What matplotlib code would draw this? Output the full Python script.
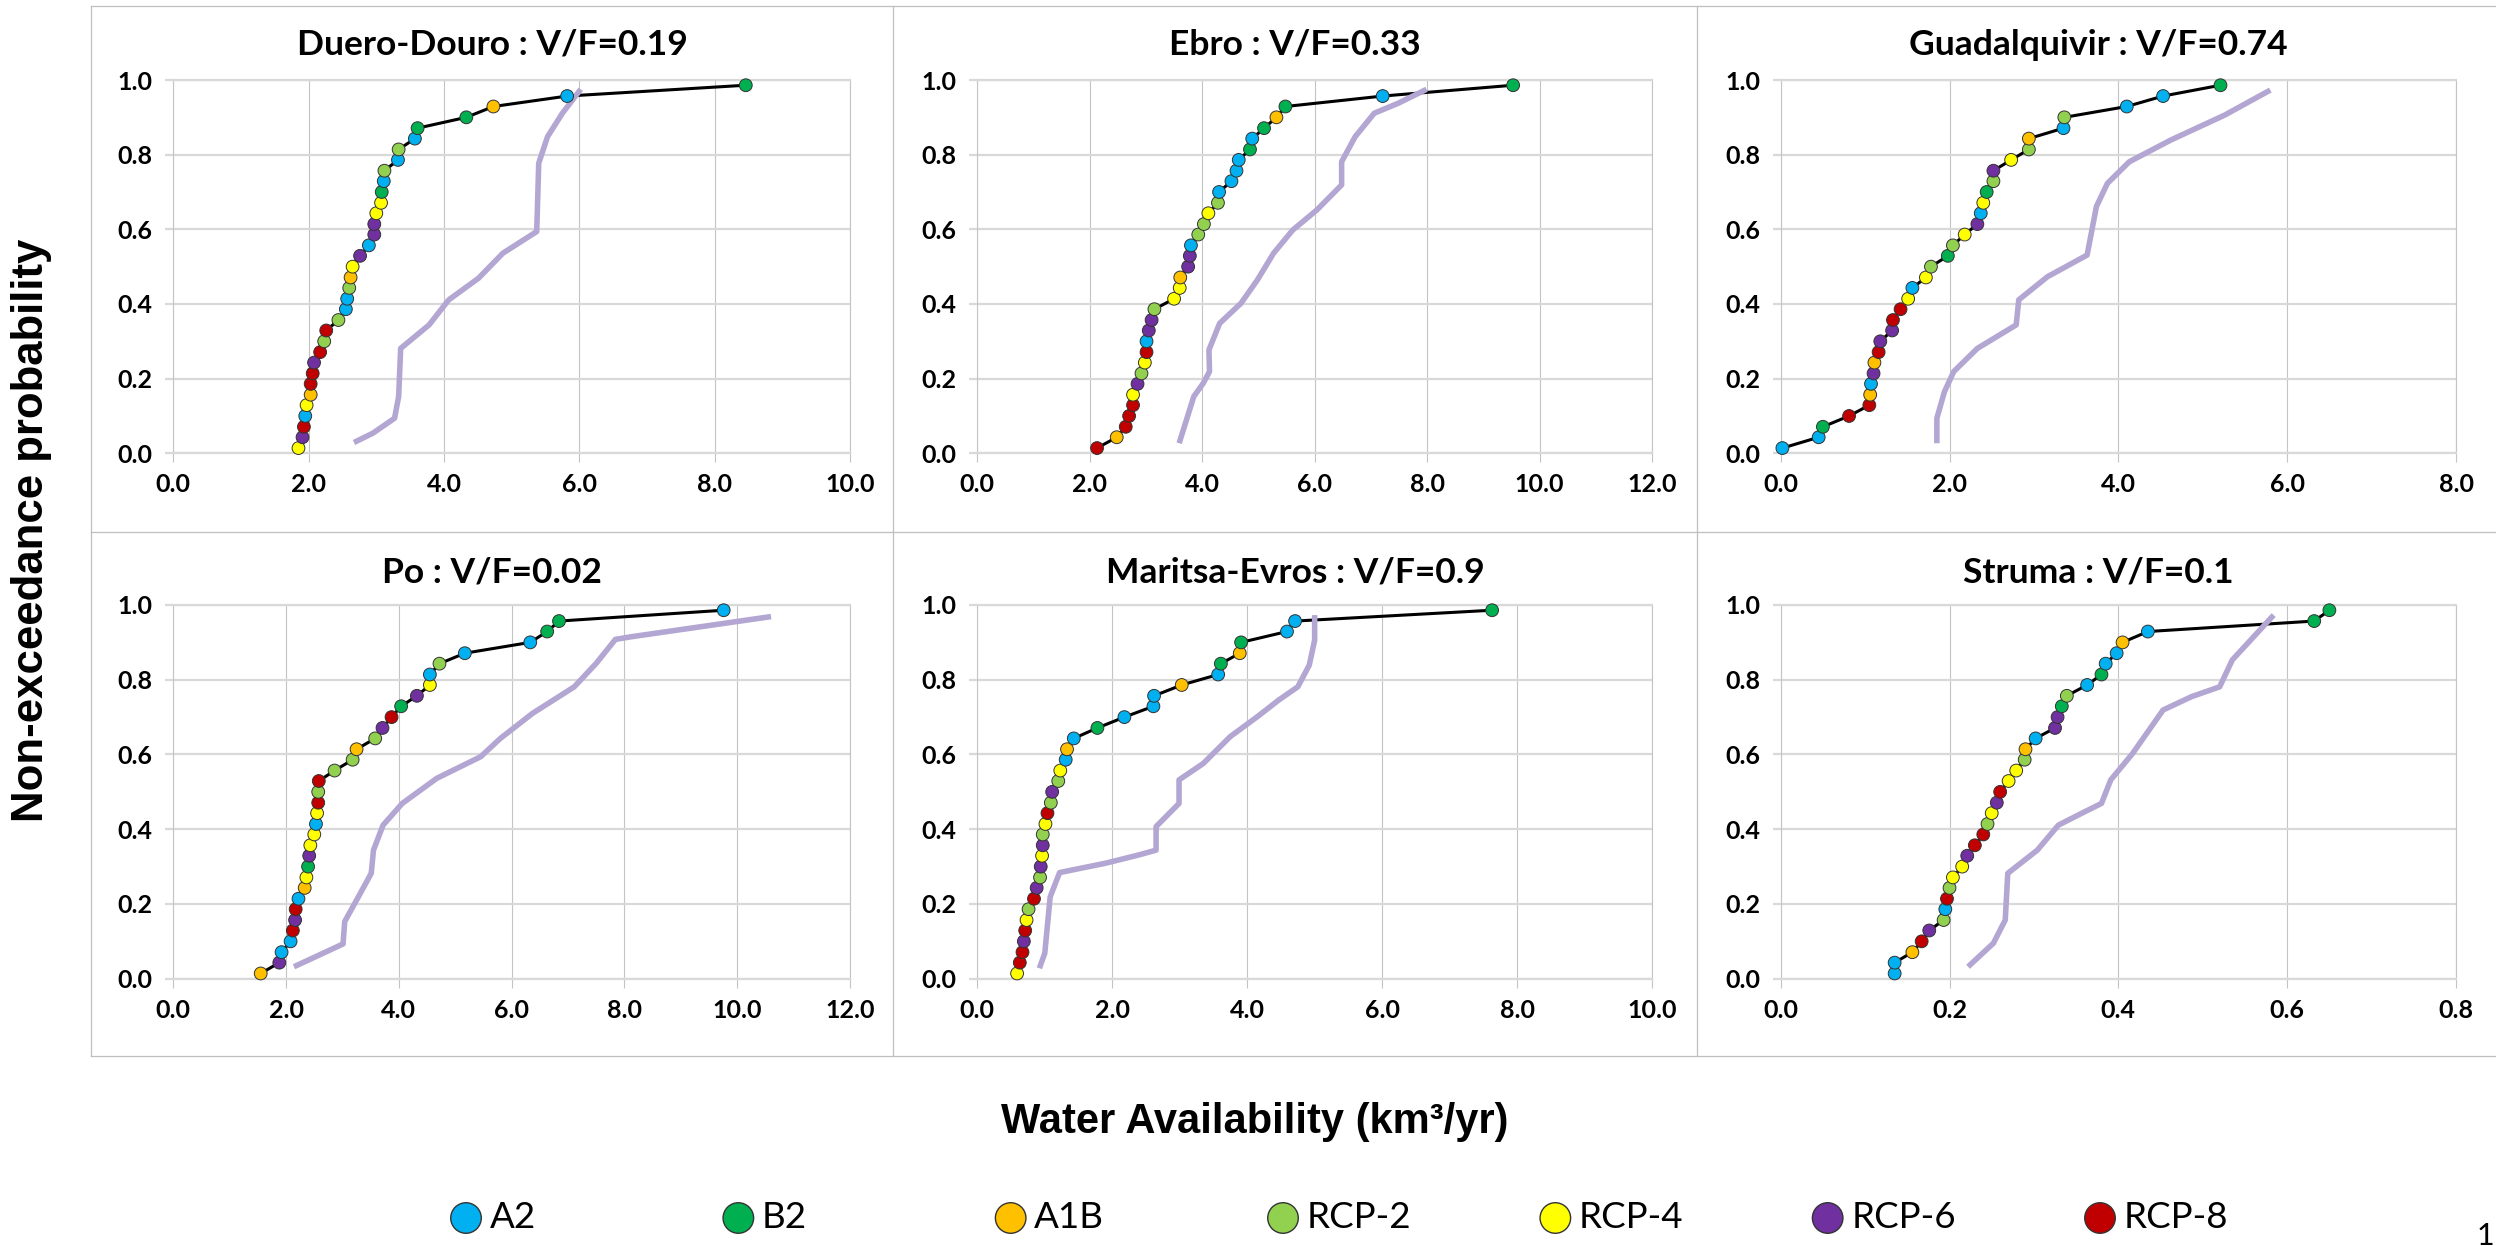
import matplotlib
matplotlib.use("Agg")
import matplotlib.pyplot as plt
from matplotlib.lines import Line2D
from matplotlib.ticker import MultipleLocator, FormatStrFormatter

# ---------------- data ----------------
SCENARIOS = ["A2", "B2", "A1B", "RCP-2", "RCP-4", "RCP-6", "RCP-8"]
SCENARIO_COLORS = ["#00B0F0", "#00B050", "#FFC000", "#92D050", "#FFFF00", "#7030A0", "#C00000"]

PROBABILITY = [0.014, 0.043, 0.071, 0.100, 0.129, 0.157, 0.186, 0.214, 0.243, 0.271,
               0.300, 0.329, 0.357, 0.386, 0.414, 0.443, 0.471, 0.500, 0.529, 0.557,
               0.586, 0.614, 0.643, 0.671, 0.700, 0.729, 0.757, 0.786, 0.814, 0.843,
               0.871, 0.900, 0.929, 0.957, 0.986]

TITLES = ["Duero-Douro : V/F=0.19", "Ebro : V/F=0.33", "Guadalquivir : V/F=0.74",
          "Po : V/F=0.02", "Maritsa-Evros : V/F=0.9", "Struma : V/F=0.1"]
X_MAX = [10, 12, 8, 12, 10, 0.8]
X_STEP = [2, 2, 2, 2, 2, 0.2]
Y_TICKS = [0.0, 0.2, 0.4, 0.6, 0.8, 1.0]

duero_x = [1.85, 1.91, 1.93, 1.95, 1.97, 2.03, 2.03, 2.06, 2.08, 2.17, 2.23, 2.26, 2.44, 2.55,
           2.57, 2.60, 2.62, 2.65, 2.76, 2.89, 2.97, 2.97, 3.00, 3.07, 3.08, 3.11, 3.12, 3.32,
           3.33, 3.57, 3.61, 4.33, 4.73, 5.82, 8.46]
duero_scen = ["RCP-4", "RCP-6", "RCP-8", "A2", "RCP-4", "A1B", "RCP-8", "RCP-8", "RCP-6", "RCP-8",
              "RCP-2", "RCP-8", "RCP-2", "A2", "A2", "RCP-2", "A1B", "RCP-4", "RCP-6", "A2",
              "RCP-6", "RCP-6", "RCP-4", "RCP-4", "B2", "A2", "RCP-2", "A2", "RCP-2", "A2",
              "B2", "B2", "A1B", "A2", "B2"]
duero_ref_x = [2.67, 2.95, 3.27, 3.33, 3.36, 3.78, 4.07, 4.51, 4.87, 5.37, 5.38, 5.40, 5.53, 5.75, 6.02]
duero_ref_y = [0.029, 0.054, 0.094, 0.152, 0.281, 0.344, 0.411, 0.469, 0.536, 0.594, 0.652, 0.777,
               0.848, 0.911, 0.975]

ebro_x = [2.13, 2.48, 2.64, 2.70, 2.77, 2.77, 2.85, 2.92, 2.98, 3.01, 3.01, 3.05, 3.10, 3.15,
          3.50, 3.60, 3.61, 3.75, 3.78, 3.80, 3.93, 4.03, 4.11, 4.28, 4.30, 4.52, 4.61, 4.65,
          4.85, 4.89, 5.10, 5.32, 5.48, 7.21, 9.53]
ebro_scen = ["RCP-8", "A1B", "RCP-8", "RCP-8", "RCP-8", "RCP-4", "RCP-6", "RCP-2", "RCP-4", "RCP-8",
             "A2", "RCP-6", "RCP-6", "RCP-2", "RCP-4", "RCP-4", "A1B", "RCP-6", "RCP-6", "A2",
             "RCP-2", "RCP-2", "RCP-4", "RCP-2", "A2", "A2", "A2", "A2", "B2", "A2",
             "B2", "A1B", "B2", "A2", "B2"]
ebro_ref_x = [3.59, 3.85, 4.02, 4.13, 4.12, 4.31, 4.69, 4.98, 5.27, 5.61, 6.04, 6.48, 6.48, 6.72,
              7.06, 7.49, 7.99]
ebro_ref_y = [0.027, 0.152, 0.188, 0.219, 0.277, 0.348, 0.402, 0.464, 0.536, 0.598, 0.652, 0.719,
              0.781, 0.848, 0.911, 0.938, 0.975]

guad_x = [0.02, 0.45, 0.50, 0.81, 1.05, 1.06, 1.07, 1.10, 1.11, 1.16, 1.18, 1.32, 1.33, 1.42,
          1.51, 1.56, 1.72, 1.78, 1.98, 2.04, 2.18, 2.33, 2.37, 2.40, 2.44, 2.52, 2.52, 2.73,
          2.94, 2.94, 3.35, 3.36, 4.10, 4.53, 5.21]
guad_scen = ["A2", "A2", "B2", "RCP-8", "RCP-8", "A1B", "A2", "RCP-6", "A1B", "RCP-8",
             "RCP-6", "RCP-6", "RCP-8", "RCP-8", "RCP-4", "A2", "RCP-4", "RCP-2", "B2", "RCP-2",
             "RCP-4", "RCP-6", "A2", "RCP-4", "B2", "RCP-2", "RCP-6", "RCP-4", "RCP-2", "A1B",
             "A2", "RCP-2", "A2", "A2", "B2"]
guad_ref_x = [1.85, 1.85, 1.94, 2.05, 2.33, 2.79, 2.82, 3.16, 3.63, 3.74, 3.87, 4.13, 4.62, 5.26, 5.80]
guad_ref_y = [0.027, 0.094, 0.165, 0.219, 0.281, 0.344, 0.411, 0.473, 0.531, 0.661, 0.723, 0.781,
              0.839, 0.906, 0.973]

po_x = [1.55, 1.88, 1.92, 2.08, 2.12, 2.16, 2.17, 2.22, 2.33, 2.36, 2.39, 2.41, 2.43, 2.50,
        2.53, 2.55, 2.57, 2.57, 2.58, 2.86, 3.18, 3.25, 3.58, 3.71, 3.87, 4.04, 4.32, 4.55,
        4.55, 4.72, 5.17, 6.33, 6.63, 6.84, 9.76]
po_scen = ["A1B", "RCP-6", "A2", "A2", "RCP-8", "RCP-6", "RCP-8", "A2", "A1B", "RCP-4",
           "B2", "RCP-6", "RCP-4", "RCP-4", "A2", "RCP-4", "RCP-8", "RCP-2", "RCP-8", "RCP-2",
           "RCP-2", "A1B", "RCP-2", "RCP-6", "RCP-8", "B2", "RCP-6", "RCP-4", "A2", "RCP-2",
           "A2", "A2", "B2", "B2", "A2"]
po_ref_x = [2.14, 3.01, 3.04, 3.30, 3.51, 3.55, 3.72, 4.06, 4.67, 5.45, 5.80, 6.37, 7.11, 7.50,
            7.84, 8.12, 10.60]
po_ref_y = [0.032, 0.093, 0.153, 0.224, 0.282, 0.344, 0.411, 0.469, 0.536, 0.594, 0.643, 0.710,
            0.781, 0.844, 0.908, 0.915, 0.969]

maritsa_x = [0.59, 0.63, 0.67, 0.69, 0.71, 0.73, 0.76, 0.84, 0.88, 0.93, 0.94, 0.96, 0.97, 0.97,
             1.01, 1.04, 1.09, 1.11, 1.20, 1.23, 1.31, 1.33, 1.43, 1.78, 2.18, 2.61, 2.62, 3.03,
             3.57, 3.61, 3.89, 3.91, 4.59, 4.71, 7.63]
maritsa_scen = ["RCP-4", "RCP-8", "RCP-8", "RCP-6", "RCP-8", "RCP-4", "RCP-2", "RCP-8", "RCP-6", "RCP-2",
                "RCP-6", "RCP-4", "RCP-6", "RCP-2", "RCP-4", "RCP-8", "RCP-2", "RCP-6", "RCP-2", "RCP-4",
                "A2", "A1B", "A2", "B2", "A2", "A2", "A2", "A1B", "A2", "B2",
                "A1B", "B2", "A2", "A2", "B2"]
maritsa_ref_x = [0.92, 1.00, 1.08, 1.22, 1.90, 2.39, 2.65, 2.65, 2.99, 2.99, 3.35, 3.75, 4.15, 4.47,
                 4.75, 4.92, 5.00, 5.00]
maritsa_ref_y = [0.028, 0.068, 0.219, 0.284, 0.309, 0.331, 0.344, 0.407, 0.469, 0.532, 0.576, 0.648,
                 0.701, 0.746, 0.781, 0.839, 0.906, 0.973]

struma_x = [0.135, 0.135, 0.156, 0.167, 0.176, 0.193, 0.195, 0.197, 0.200, 0.204, 0.215, 0.221,
            0.230, 0.240, 0.245, 0.250, 0.256, 0.260, 0.270, 0.279, 0.289, 0.290, 0.302, 0.325,
            0.328, 0.333, 0.339, 0.363, 0.380, 0.385, 0.398, 0.405, 0.435, 0.632, 0.650]
struma_scen = ["A2", "A2", "A1B", "RCP-8", "RCP-6", "RCP-2", "A2", "RCP-8", "RCP-2", "RCP-4",
               "RCP-4", "RCP-6", "RCP-8", "RCP-8", "RCP-2", "RCP-4", "RCP-6", "RCP-8", "RCP-4", "RCP-4",
               "RCP-2", "A1B", "A2", "RCP-6", "RCP-6", "B2", "RCP-2", "A2", "B2", "A2",
               "A2", "A1B", "A2", "B2", "B2"]
struma_ref_x = [0.222, 0.252, 0.266, 0.269, 0.304, 0.329, 0.356, 0.380, 0.391, 0.417, 0.453, 0.487,
                0.520, 0.535, 0.584]
struma_ref_y = [0.032, 0.095, 0.157, 0.282, 0.344, 0.411, 0.442, 0.469, 0.532, 0.603, 0.719, 0.755,
                0.781, 0.853, 0.973]

BASINS = [
    (duero_x, duero_scen, duero_ref_x, duero_ref_y),
    (ebro_x, ebro_scen, ebro_ref_x, ebro_ref_y),
    (guad_x, guad_scen, guad_ref_x, guad_ref_y),
    (po_x, po_scen, po_ref_x, po_ref_y),
    (maritsa_x, maritsa_scen, maritsa_ref_x, maritsa_ref_y),
    (struma_x, struma_scen, struma_ref_x, struma_ref_y),
]

# ---------------- styling / layout ----------------
W, H, DPI = 2496, 1246, 100
CAL = ["Lato", "DejaVu Sans"]
ARIAL = ["Liberation Sans", "DejaVu Sans"]
plt.rcParams["font.family"] = CAL

COLOR_OF = dict(zip(SCENARIOS, SCENARIO_COLORS))
REF_COLOR = "#B3A6D2"
HGRID = "#D9D9D9"
VGRID = "#C4C4C4"
FRAME = "#BFBFBF"

COL_PX = [(173.3, 850.0), (977.3, 1652.0), (1780.7, 2456.0)]
ROW_PX = [(80.0, 453.3), (605.0, 978.7)]
PANEL_CX = [492, 1295, 2098]
TITLE_BASE = [55, 582]

fig = plt.figure(figsize=(W / DPI, H / DPI), dpi=DPI)
fig.patch.set_facecolor("white")


def fx(px):
    return px / W


def fy(py):
    return 1 - py / H


# panel frames
for (x0, y0, x1, y1) in [(91, 6, 2500, 6), (91, 1056, 2500, 1056), (91, 6, 91, 1056),
                         (893, 6, 893, 1056), (1697, 6, 1697, 1056), (91, 531.5, 2500, 531.5)]:
    fig.add_artist(Line2D([fx(x0), fx(x1)], [fy(y0), fy(y1)], transform=fig.transFigure,
                          color=FRAME, lw=0.9, zorder=0))

for i, (xs, scen, rx, ry) in enumerate(BASINS):
    r, c = divmod(i, 3)
    left, right = COL_PX[c]
    top, bot = ROW_PX[r]
    ax = fig.add_axes([fx(left), fy(bot), (right - left) / W, (bot - top) / H])
    ax.set_xlim(0, X_MAX[i])
    ax.set_ylim(0, 1)
    ax.xaxis.set_major_locator(MultipleLocator(X_STEP[i]))
    ax.set_yticks(Y_TICKS)
    ax.xaxis.set_major_formatter(FormatStrFormatter("%.1f"))
    ax.yaxis.set_major_formatter(FormatStrFormatter("%.1f"))
    ax.grid(axis="x", color=VGRID, lw=0.8, zorder=0)
    ax.grid(axis="y", color=HGRID, lw=1.6, zorder=0)
    ax.set_axisbelow(True)
    for s in ("top", "bottom"):
        ax.spines[s].set_color(HGRID)
        ax.spines[s].set_linewidth(1.6)
    for s in ("left", "right"):
        ax.spines[s].set_color(VGRID)
        ax.spines[s].set_linewidth(0.8)
    ax.tick_params(axis="x", color=VGRID, width=0.8, length=6.5, pad=8,
                   labelsize=18, labelcolor="black")
    ax.tick_params(axis="y", color=HGRID, width=1.6, length=5.8, pad=9,
                   labelsize=18, labelcolor="black")
    for lab in ax.get_xticklabels() + ax.get_yticklabels():
        lab.set_fontweight("bold")

    ax.plot(xs, PROBABILITY, color="black", lw=2.2, zorder=2)
    ax.plot(rx, ry, color=REF_COLOR, lw=4.0, solid_capstyle="butt", zorder=3, clip_on=False)
    ax.scatter(xs, PROBABILITY, c=[COLOR_OF[s] for s in scen], s=9.2 ** 2,
               edgecolors="#333333", linewidths=0.7, zorder=4, clip_on=False)

    fig.text(fx(PANEL_CX[c]), fy(TITLE_BASE[r]), TITLES[i], ha="center", va="baseline",
             fontsize=25.5, fontweight="bold", family=CAL)

# axis labels
fig.text(fx(32), fy(530), "Non-exceedance probability", rotation=90, ha="center",
         va="center", fontsize=31.5, fontweight="bold", family=ARIAL)
fig.text(fx(1255), fy(1122), "Water Availability (km³/yr)", ha="center", va="center",
         fontsize=30, fontweight="bold", family=ARIAL)

# legend row (scenarios placed at categorical positions)
lax = fig.add_axes([fx(466), fy(1240), (2100 - 466) / W, 44 / H])
lax.set_xlim(0, len(SCENARIOS) - 1)
lax.set_ylim(-1, 1)
lax.axis("off")
pos = list(range(len(SCENARIOS)))
lax.scatter(pos, [0] * len(pos), s=22 ** 2, c=SCENARIO_COLORS, edgecolors="#333333",
            linewidths=1.0, clip_on=False)
for p, name in zip(pos, SCENARIOS):
    lax.annotate(name, (p, 0), xytext=(17, 0), textcoords="offset points", ha="left",
                 va="center", fontsize=26.5, family=CAL)

fig.text(fx(2494), fy(1236), "1", ha="right", va="center", fontsize=22, family=CAL)

fig.savefig("out.png", dpi=DPI, facecolor="white")
